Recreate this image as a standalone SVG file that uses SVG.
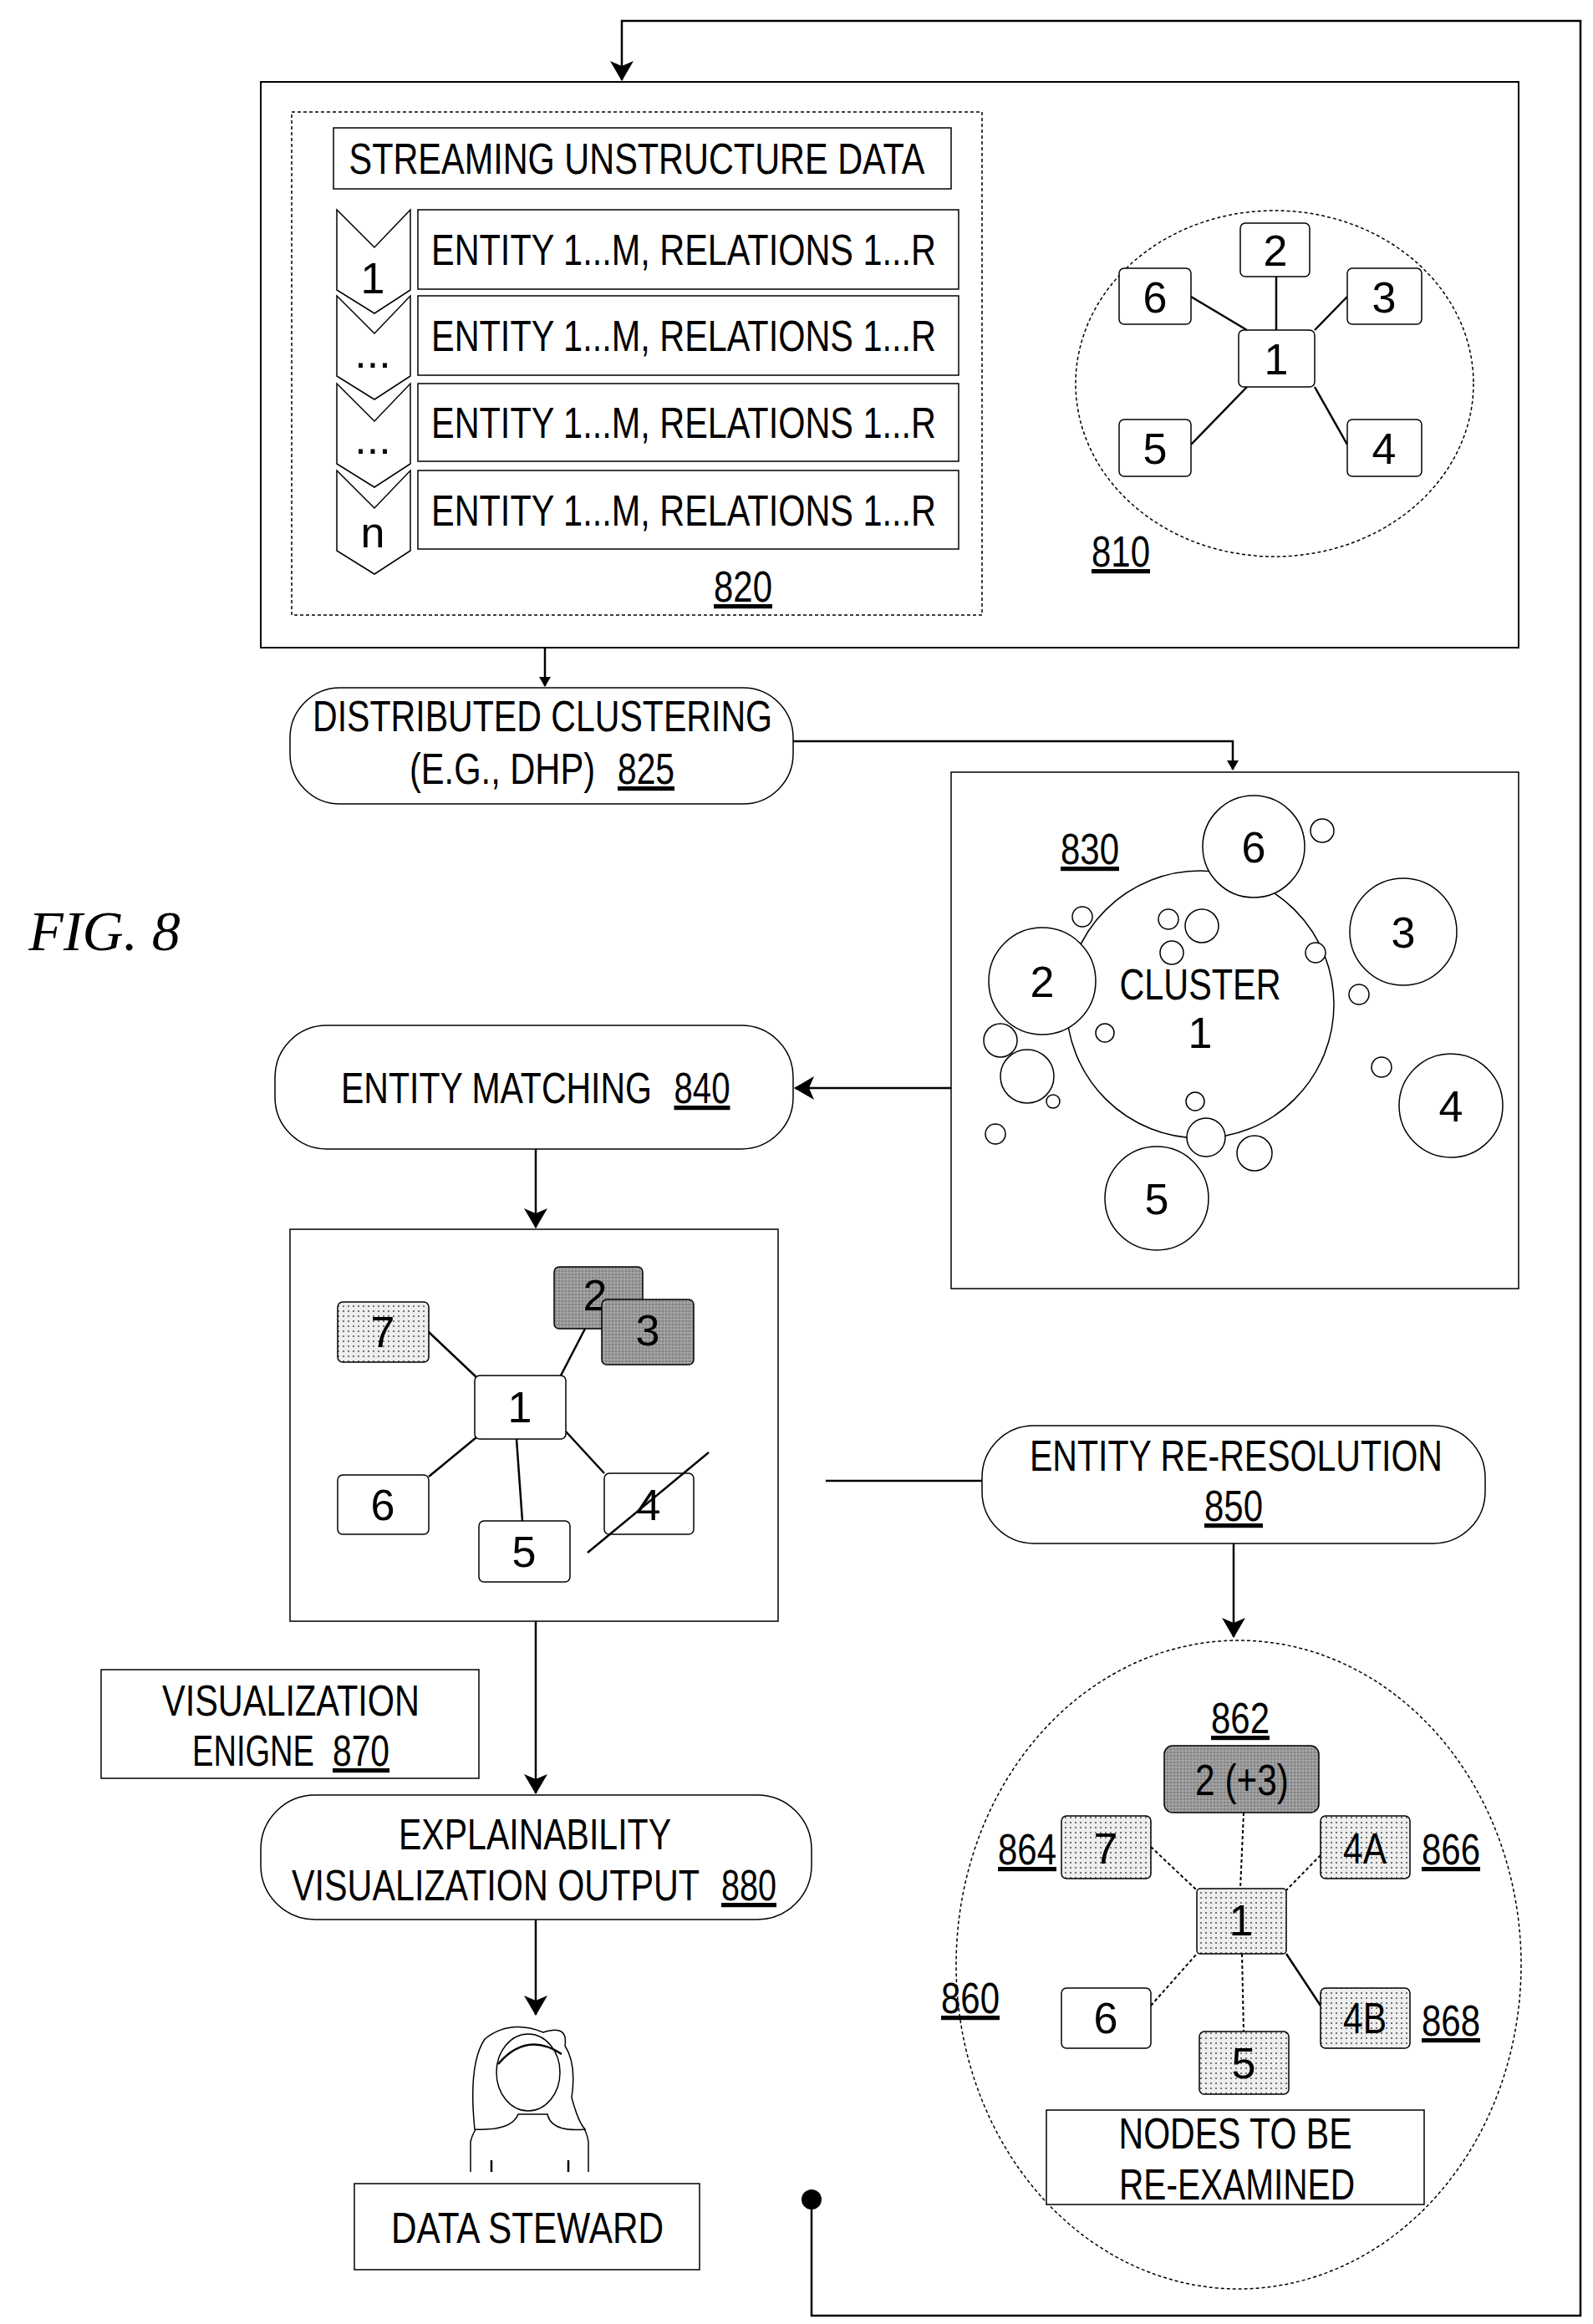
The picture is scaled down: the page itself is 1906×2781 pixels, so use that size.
<svg xmlns="http://www.w3.org/2000/svg" width="1906" height="2781" viewBox="0 0 1906 2781">
<style>
text{font-family:"Liberation Sans Narrow","Liberation Sans",Arial,sans-serif;font-size:52px;fill:#000;text-anchor:middle}
.u{text-decoration:underline}
.b{fill:#fff;stroke:#000;stroke-width:2}
.n{fill:#fff;stroke:#000;stroke-width:1.5}
.d{fill:url(#dots);stroke:#000;stroke-width:1.5}
.g{fill:url(#gray);stroke:#000;stroke-width:1.5}
.ds{fill:none;stroke:#000;stroke-width:1.5;stroke-dasharray:4 3}
.l{stroke:#000;stroke-width:2.5;fill:none}
.dl{stroke:#000;stroke-width:2;fill:none;stroke-dasharray:4 3}
.c{fill:#fff;stroke:#000;stroke-width:1.5}
</style>
<defs>
<pattern id="dots" width="6" height="6" patternUnits="userSpaceOnUse"><rect width="6" height="6" fill="#eee"/><circle cx="3" cy="3" r="1.1" fill="#555"/></pattern>
<pattern id="gray" width="4" height="4" patternUnits="userSpaceOnUse"><rect width="4" height="4" fill="#999"/><circle cx="1" cy="1" r="0.8" fill="#666"/><circle cx="3" cy="3" r="0.8" fill="#bbb"/></pattern>
<marker id="a" markerWidth="12" markerHeight="14" refX="11" refY="7" orient="auto" markerUnits="userSpaceOnUse"><path d="M0,0 L12,7 L0,14 Z"/></marker>
<marker id="a2" markerWidth="24" markerHeight="28" refX="23" refY="14" orient="auto" markerUnits="userSpaceOnUse"><path d="M0,0 L24,14 L0,28 L6,14 Z"/></marker>
</defs>
<rect width="1906" height="2781" fill="#fff"/>
<text x="125" y="1137" style="font-family:'Liberation Serif',serif;font-style:italic;font-size:68px">FIG. 8</text>

<g id="connectors">
<polyline class="l" points="971,2632 971,2771 1891,2771 1891,25 744,25 744,96" marker-end="url(#a2)"/>
<circle cx="971" cy="2632" r="12"/>
<line class="l" x1="652" y1="657" x2="652" y2="821" stroke-width="2" marker-end="url(#a)"/>
<polyline class="l" points="949,887 1475,887 1475,921" marker-end="url(#a)"/>
<line class="l" x1="1138" y1="1302" x2="951" y2="1302" marker-end="url(#a2)"/>
<line class="l" x1="641" y1="1375" x2="641" y2="1469" marker-end="url(#a2)"/>
<line class="l" x1="988" y1="1772" x2="1175" y2="1772"/>
<line class="l" x1="1476" y1="1847" x2="1476" y2="1959" marker-end="url(#a2)"/>
<line class="l" x1="641" y1="1940" x2="641" y2="2146" marker-end="url(#a2)"/>
<line class="l" x1="641" y1="2297" x2="641" y2="2411" marker-end="url(#a2)"/>
</g>

<g id="n810-frame"><rect class="b" x="312" y="98" width="1505" height="677" stroke-width="3"/></g>
<g id="n820">
<rect class="ds" x="349" y="134" width="826" height="602"/>
<rect class="n" x="399" y="153" width="739" height="73"/>
<text x="762" y="208" textLength="689" lengthAdjust="spacingAndGlyphs">STREAMING UNSTRUCTURE DATA</text>
<g id="rows">
<path class="n" d="M403,251 L448,296 L491,251 L491,347 L448,375 L403,347 Z"/>
<rect class="n" x="500" y="251" width="647" height="95"/><text x="818" y="317" textLength="604" lengthAdjust="spacingAndGlyphs">ENTITY 1...M, RELATIONS 1...R</text><text x="446" y="351">1</text>
<path class="n" d="M403,354 L448,399 L491,354 L491,450 L448,478 L403,450 Z"/>
<rect class="n" x="500" y="354" width="647" height="95"/><text x="818" y="420" textLength="604" lengthAdjust="spacingAndGlyphs">ENTITY 1...M, RELATIONS 1...R</text><text x="446" y="440">...</text>
<path class="n" d="M403,459 L448,504 L491,459 L491,555 L448,583 L403,555 Z"/>
<rect class="n" x="500" y="459" width="647" height="93"/><text x="818" y="524" textLength="604" lengthAdjust="spacingAndGlyphs">ENTITY 1...M, RELATIONS 1...R</text><text x="446" y="543">...</text>
<path class="n" d="M403,563 L448,608 L491,563 L491,659 L448,687 L403,659 Z"/>
<rect class="n" x="500" y="563" width="647" height="94"/><text x="818" y="629" textLength="604" lengthAdjust="spacingAndGlyphs">ENTITY 1...M, RELATIONS 1...R</text><text x="446" y="655">n</text>
</g>
<text class="u" x="889" y="720" textLength="70" lengthAdjust="spacingAndGlyphs">820</text>
</g>
<g id="n810">
<ellipse class="ds" cx="1525" cy="459" rx="238" ry="207"/>
<line class="l" stroke-width="1.5" x1="1527" y1="331" x2="1527" y2="395"/>
<line class="l" stroke-width="2" x1="1425" y1="355" x2="1492" y2="395"/>
<line class="l" stroke-width="2" x1="1612" y1="355" x2="1573" y2="395"/>
<line class="l" stroke-width="2" x1="1425" y1="532" x2="1492" y2="463"/>
<line class="l" stroke-width="2" x1="1612" y1="532" x2="1573" y2="463"/>
<rect class="n" x="1482" y="395" width="91" height="68" rx="6"/><text x="1527" y="448">1</text>
<rect class="n" x="1484" y="267" width="83" height="64" rx="6"/><text x="1526" y="318">2</text>
<rect class="n" x="1339" y="321" width="86" height="67" rx="6"/><text x="1382" y="374">6</text>
<rect class="n" x="1612" y="321" width="89" height="67" rx="6"/><text x="1656" y="374">3</text>
<rect class="n" x="1339" y="502" width="86" height="68" rx="6"/><text x="1382" y="555">5</text>
<rect class="n" x="1612" y="502" width="89" height="68" rx="6"/><text x="1656" y="555">4</text>
<text class="u" x="1341" y="678" textLength="70" lengthAdjust="spacingAndGlyphs">810</text>
</g>

<g id="n825">
<rect class="n" x="347" y="823" width="602" height="139" rx="60"/>
<text x="649" y="875" textLength="550" lengthAdjust="spacingAndGlyphs">DISTRIBUTED CLUSTERING</text>
<text x="601" y="938" textLength="222" lengthAdjust="spacingAndGlyphs">(E.G., DHP)</text>
<text class="u" x="773" y="938" textLength="68" lengthAdjust="spacingAndGlyphs">825</text>
</g>

<g id="n830">
<rect class="n" x="1138" y="924" width="679" height="618"/>
<text class="u" x="1304" y="1034" textLength="70" lengthAdjust="spacingAndGlyphs">830</text>
<circle class="c" cx="1436" cy="1202" r="160"/>
<text x="1436" y="1196" textLength="193" lengthAdjust="spacingAndGlyphs">CLUSTER</text><text x="1436" y="1254">1</text>
<circle class="c" cx="1500" cy="1013" r="61"/><text x="1500" y="1032">6</text>
<circle class="c" cx="1247" cy="1174" r="64"/><text x="1247" y="1193">2</text>
<circle class="c" cx="1679" cy="1115" r="64"/><text x="1679" y="1134">3</text>
<circle class="c" cx="1736" cy="1323" r="62"/><text x="1736" y="1342">4</text>
<circle class="c" cx="1384" cy="1434" r="62"/><text x="1384" y="1453">5</text>
<g class="c">
<circle cx="1582" cy="994" r="14"/><circle cx="1295" cy="1097" r="12"/><circle cx="1398" cy="1100" r="12"/><circle cx="1438" cy="1108" r="20"/><circle cx="1402" cy="1140" r="14"/><circle cx="1574" cy="1140" r="12"/><circle cx="1626" cy="1190" r="12"/><circle cx="1322" cy="1236" r="11"/><circle cx="1229" cy="1288" r="32"/><circle cx="1197" cy="1245" r="20"/><circle cx="1653" cy="1277" r="12"/><circle cx="1191" cy="1357" r="12"/><circle cx="1430" cy="1318" r="11"/><circle cx="1443" cy="1361" r="23"/><circle cx="1501" cy="1380" r="21"/><circle cx="1260" cy="1318" r="8"/>
</g>
</g>

<g id="n840">
<rect class="n" x="329" y="1227" width="620" height="148" rx="62"/>
<text x="594" y="1320" textLength="372" lengthAdjust="spacingAndGlyphs">ENTITY MATCHING</text>
<text class="u" x="840" y="1320" textLength="67" lengthAdjust="spacingAndGlyphs">840</text>
</g>

<g id="n845">
<rect class="n" x="347" y="1471" width="584" height="469"/>
<line class="l" stroke-width="2" x1="513" y1="1594" x2="570" y2="1648"/>
<line class="l" stroke-width="2" x1="700" y1="1590" x2="671" y2="1646"/>
<line class="l" stroke-width="2" x1="570" y1="1720" x2="513" y2="1767"/>
<line class="l" stroke-width="2" x1="618" y1="1722" x2="625" y2="1820"/>
<line class="l" stroke-width="2" x1="677" y1="1713" x2="723" y2="1763"/>
<rect class="d" x="404" y="1558" width="109" height="72" rx="6"/><text x="458" y="1612">7</text>
<rect class="g" x="663" y="1516" width="106" height="74" rx="6"/><text x="712" y="1568">2</text>
<rect class="g" x="720" y="1555" width="110" height="78" rx="6"/><text x="775" y="1610">3</text>
<rect class="n" x="568" y="1646" width="109" height="76" rx="6"/><text x="622" y="1702">1</text>
<rect class="n" x="404" y="1765" width="109" height="71" rx="6"/><text x="458" y="1819">6</text>
<rect class="n" x="573" y="1820" width="109" height="73" rx="6"/><text x="627" y="1875">5</text>
<rect class="n" x="723" y="1763" width="107" height="73" rx="6"/><text x="776" y="1819">4</text>
<line class="l" stroke-width="2" x1="703" y1="1858" x2="848" y2="1738"/>
</g>

<g id="n850">
<rect class="n" x="1175" y="1706" width="602" height="141" rx="62"/>
<text x="1479" y="1760" textLength="494" lengthAdjust="spacingAndGlyphs">ENTITY RE-RESOLUTION</text>
<text class="u" x="1476" y="1820" textLength="70" lengthAdjust="spacingAndGlyphs">850</text>
</g>

<g id="n860">
<ellipse class="ds" cx="1482" cy="2351" rx="338" ry="388"/>
<text class="u" x="1484" y="2074" textLength="70" lengthAdjust="spacingAndGlyphs">862</text>
<line class="dl" x1="1488" y1="2169" x2="1484" y2="2260"/>
<line class="dl" x1="1377" y1="2210" x2="1432" y2="2262"/>
<line class="dl" x1="1580" y1="2220" x2="1539" y2="2262"/>
<line class="dl" x1="1377" y1="2400" x2="1432" y2="2338"/>
<line class="l" stroke-width="2" x1="1580" y1="2400" x2="1539" y2="2338"/>
<line class="dl" x1="1486" y1="2338" x2="1488" y2="2431"/>
<rect class="g" x="1393" y="2089" width="185" height="80" rx="10"/><text x="1486" y="2148" textLength="112" lengthAdjust="spacingAndGlyphs">2 (+3)</text>
<rect class="d" x="1270" y="2173" width="107" height="75" rx="6"/><text x="1323" y="2230">7</text>
<text class="u" x="1229" y="2231" textLength="70" lengthAdjust="spacingAndGlyphs">864</text>
<rect class="d" x="1580" y="2173" width="107" height="75" rx="6"/><text x="1633" y="2230" textLength="52" lengthAdjust="spacingAndGlyphs">4A</text>
<text class="u" x="1736" y="2231" textLength="70" lengthAdjust="spacingAndGlyphs">866</text>
<rect class="d" x="1432" y="2260" width="107" height="78" rx="4"/><text x="1485" y="2316">1</text>
<rect class="n" x="1270" y="2379" width="107" height="72" rx="6"/><text x="1323" y="2433">6</text>
<rect class="d" x="1580" y="2379" width="107" height="72" rx="6"/><text x="1633" y="2433" textLength="52" lengthAdjust="spacingAndGlyphs">4B</text>
<text class="u" x="1736" y="2436" textLength="70" lengthAdjust="spacingAndGlyphs">868</text>
<rect class="d" x="1435" y="2431" width="107" height="75" rx="6"/><text x="1488" y="2487">5</text>
<text class="u" x="1161" y="2409" textLength="70" lengthAdjust="spacingAndGlyphs">860</text>
<rect class="n" x="1252" y="2525" width="452" height="113"/>
<text x="1478" y="2571" textLength="279" lengthAdjust="spacingAndGlyphs">NODES TO BE</text>
<text x="1480" y="2632" textLength="282" lengthAdjust="spacingAndGlyphs">RE-EXAMINED</text>
</g>

<g id="n870">
<rect class="n" x="121" y="1998" width="452" height="130"/>
<text x="348" y="2053" textLength="308" lengthAdjust="spacingAndGlyphs">VISUALIZATION</text>
<text x="303" y="2113" textLength="146" lengthAdjust="spacingAndGlyphs">ENIGNE</text>
<text class="u" x="432" y="2113" textLength="68" lengthAdjust="spacingAndGlyphs">870</text>
</g>

<g id="n880">
<rect class="n" x="312" y="2148" width="659" height="149" rx="65"/>
<text x="640" y="2213" textLength="326" lengthAdjust="spacingAndGlyphs">EXPLAINABILITY</text>
<text x="593" y="2274" textLength="488" lengthAdjust="spacingAndGlyphs">VISUALIZATION OUTPUT</text>
<text class="u" x="896" y="2274" textLength="66" lengthAdjust="spacingAndGlyphs">880</text>
</g>

<g id="steward">
<path class="n" stroke-width="2" d="M563,2599 L563,2563 Q570,2532 610,2522 L610,2500 L660,2500 L660,2522 Q700,2532 704,2563 L704,2599"/>
<path class="n" stroke-width="2" d="M568,2548 Q560,2470 580,2440 Q610,2416 650,2432 Q680,2422 676,2448 Q690,2470 684,2510 Q692,2540 700,2548 Q660,2552 655,2530 L620,2530 Q612,2550 568,2548 Z"/>
<ellipse class="n" stroke-width="2" cx="632" cy="2480" rx="38" ry="46"/>
<path class="l" stroke-width="2" d="M596,2470 Q630,2430 672,2458"/>
<line class="l" stroke-width="2" x1="588" y1="2585" x2="588" y2="2599"/>
<line class="l" stroke-width="2" x1="680" y1="2585" x2="680" y2="2599"/>
<rect class="n" x="424" y="2613" width="413" height="103"/>
<text x="631" y="2684" textLength="326" lengthAdjust="spacingAndGlyphs">DATA STEWARD</text>
</g>
</svg>
